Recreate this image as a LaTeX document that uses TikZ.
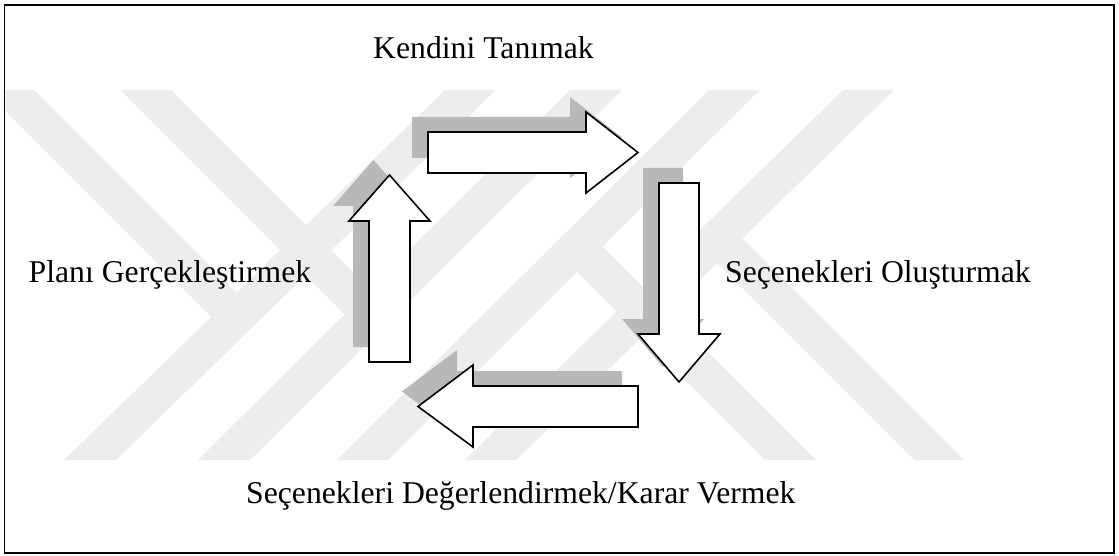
\documentclass[tikz,border=0pt]{standalone}
\usepackage{fontspec}
\setmainfont{Liberation Serif}
\usetikzlibrary{shadows}

\begin{document}
\begin{tikzpicture}[x=1pt,y=-1pt,
        lbl/.style={font=\fontsize{31.7}{38}\selectfont,inner sep=0pt,anchor=base west},
        wmark/.style={fill=black!7},
        blockarrow/.style={draw=black,line width=1.6pt,fill=white,line join=miter,
            general shadow={fill=black!28,shadow xshift=-16pt,shadow yshift=15pt}}]
        \useasboundingbox (0,0) rectangle (1119,556);
        % faint watermark behind the cycle
        \begin{scope}
            \clip (5.5,6) rectangle (1113,552);
            \fill[wmark] (445,90) -- (496,90) -- (116,460) -- (64,460) -- cycle;
            \fill[wmark] (570,90) -- (622,90) -- (250,460) -- (198,460) -- cycle;
            \fill[wmark] (709,90) -- (760,90) -- (388,460) -- (337,460) -- cycle;
            \fill[wmark] (843,90) -- (894,90) -- (516,460) -- (465,460) -- cycle;
            \fill[wmark] (-16,90) -- (34,90) -- (261.9,317.9) -- (211.1,317.1) -- cycle;
            \fill[wmark] (120,90) -- (171,90) -- (395.9,314.9) -- (344.4,314.4) -- cycle;
            \fill[wmark] (765,460) -- (816,460) -- (602.6,246.6) -- (551.6,246.6) -- cycle;
            \fill[wmark] (914,460) -- (964,460) -- (742.4,238.4) -- (691.9,237.9) -- cycle;
        \end{scope}
        % the four block arrows
        \draw[blockarrow] (428,132) -- (586,132) -- (586,112) -- (638,152.5) -- (586,193) -- (586,173) -- (428,173) -- cycle;
        \draw[blockarrow] (659,183) -- (699,183) -- (699,334) -- (720,334) -- (679,382) -- (638,334) -- (659,334) -- cycle;
        \draw[blockarrow] (638,386) -- (473,386) -- (473,365) -- (418,406.5) -- (473,447) -- (473,427) -- (638,427) -- cycle;
        \draw[blockarrow] (369,362) -- (369,221) -- (349,221) -- (389.5,175) -- (430,221) -- (410,221) -- (410,362) -- cycle;
        % labels
        \node[lbl] (kendini) at (373,59) {Kendini Tanımak};
        \node[lbl] (olusturma) at (725,282) {Seçenekleri Oluşturmak};
        \node[lbl] (degerlendirme) at (246,503.5) {Seçenekleri Değerlendirmek/Karar Vermek};
        \node[lbl] (plani) at (28.5,282) {Planı Gerçekleştirmek};
        \draw[line width=1.8pt] (4.5,5) rectangle (1114,553);
    \end{tikzpicture}
\end{document}
